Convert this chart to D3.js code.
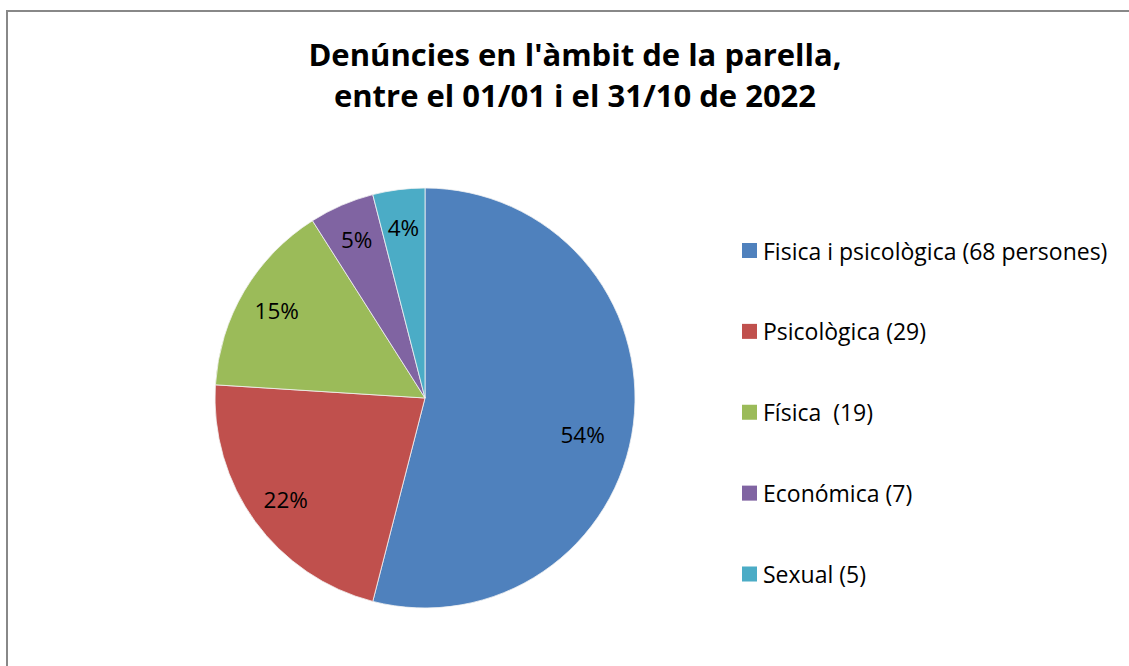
<!DOCTYPE html>
<html>
<head>
<meta charset="utf-8">
<script src="https://cdn.jsdelivr.net/npm/d3@7"></script>
<style>
  html, body { margin: 0; padding: 0; background: #fff; }
  svg { display: block; }
  text { font-family: "Open Sans", Lato, sans-serif; fill: #000; white-space: pre; }
</style>
</head>
<body>
<svg id="chart" width="1129" height="666"></svg>
<script>
// ---- data ----
const titleLines = ["Denúncies en l'àmbit de la parella,", "entre el 01/01 i el 31/10 de 2022"];
const categories = ["Fisica i psicològica (68 persones)", "Psicològica (29)", "Física  (19)", "Económica (7)", "Sexual (5)"];
const percentages = [54, 22, 15, 5, 4];
const colors = ["#4F81BD", "#C0504D", "#9BBB59", "#8064A2", "#4BACC6"];

const W = 1129, H = 666;
const svg = d3.select("#chart");

// chart border
svg.append("rect")
  .attr("x", 7).attr("y", 11)
  .attr("width", W + 20).attr("height", H + 20)
  .attr("fill", "#fff")
  .attr("stroke", "#888").attr("stroke-width", 2);

// title
const title = svg.append("text")
  .attr("text-anchor", "middle")
  .attr("font-weight", "bold")
  .attr("font-size", 31);
titleLines.forEach((t, i) => {
  title.append("tspan").attr("x", 575).attr("y", 66 + i * 41).text(t);
});

// pie
const cx = 425, cy = 398, r = 210;
const data = categories.map((c, i) => ({ name: c, value: percentages[i], color: colors[i] }));
const pie = d3.pie().value(d => d.value).sort(null);
const arcs = pie(data);
const arc = d3.arc().innerRadius(0).outerRadius(r);
const labelArc = d3.arc().innerRadius(r * 0.82).outerRadius(r * 0.82);

const g = svg.append("g").attr("transform", `translate(${cx},${cy})`);
g.selectAll("path.slice").data(arcs).join("path")
  .attr("class", "slice")
  .attr("d", arc)
  .attr("fill", d => d.data.color)
  .attr("stroke", "#f2f2f2").attr("stroke-width", 0.8);

g.selectAll("text.lbl").data(arcs).join("text")
  .attr("class", "lbl")
  .attr("transform", d => {
    let [x, y] = labelArc.centroid(d);
    if (d.index === 0) { const a = (d.startAngle + d.endAngle) / 2 + 0.1; const rr = r * 0.77; x = rr * Math.sin(a); y = -rr * Math.cos(a); }
    return `translate(${x},${y})`;
  })
  .attr("text-anchor", "middle")
  .attr("dominant-baseline", "central")
  .attr("font-size", 22.5)
  .text(d => d.data.value + "%");

// legend
const legendY = d3.scalePoint().domain(categories).range([250.5, 574]);
const lg = svg.append("g");
const items = lg.selectAll("g.item").data(data).join("g")
  .attr("class", "item")
  .attr("transform", d => `translate(742,${legendY(d.name)})`);
items.append("rect")
  .attr("x", 0).attr("y", -7.5).attr("width", 15).attr("height", 15)
  .attr("fill", d => d.color);
items.append("text")
  .attr("x", 21).attr("y", 0)
  .attr("dominant-baseline", "central")
  .attr("font-size", 23)
  .text(d => d.name);
</script>
</body>
</html>
